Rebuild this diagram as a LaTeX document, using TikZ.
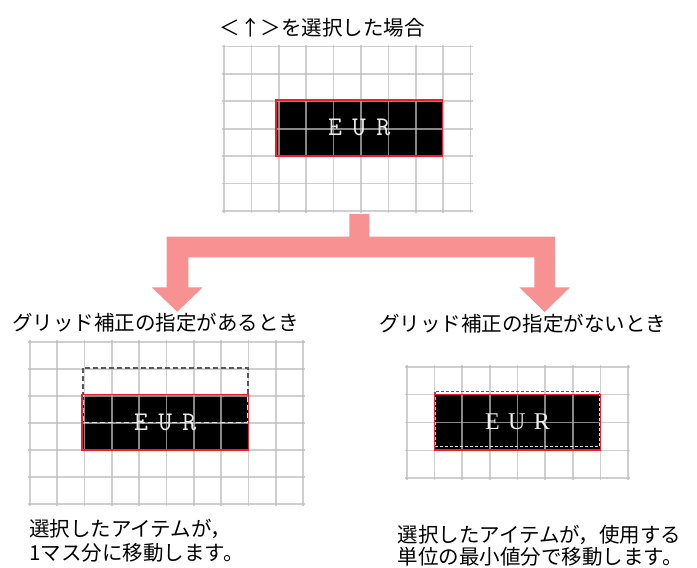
\documentclass[tikz,border=0pt]{standalone}
\usepackage{fontspec}
\newfontfamily\jpfont{Noto Sans CJK JP}
\newfontfamily\eurserif{Liberation Serif}
\usetikzlibrary{positioning}
\definecolor{arrowpink}{RGB}{248,145,145}
\definecolor{gridgray}{RGB}{188,188,188}
\definecolor{borderred}{RGB}{240,30,40}

\begin{document}
\begin{tikzpicture}[x=1pt, y=-1pt,
        gridline/.style={draw=gridgray, opacity=0.72, line width=1.7pt},
        itemfill/.style={fill=black, inner sep=0pt, outer sep=0pt, minimum width=166.3pt, minimum height=55.7pt},
        itemedge/.style={draw=borderred, line width=1.5pt},
        oldpos/.style={draw=black!65, line width=1.2pt},
        heading/.style={font=\jpfont\fontsize{20.5}{24}\selectfont, inner sep=0pt},
        note/.style={font=\jpfont\fontsize{20.5}{24}\selectfont, inner sep=0pt, align=left, anchor=west},
        eurmono/.style={text=black!8, font=\ttfamily\fontsize{27}{27}\selectfont\addfontfeatures{FakeBold=1.2}, inner sep=0pt},
        eurroman/.style={text=black!6, font=\eurserif\fontsize{24}{24}\selectfont, inner sep=0pt}
    ]
        \useasboundingbox (0,0) rectangle (697,568);

        % top panel
        \node[heading] (toptitle) at (322,27.5) {＜↑＞を選択した場合};
        \node[itemfill] (topbox) at (359.2,127.9) {};
        \foreach \i in {0,...,9}
            \draw[gridline] (224+27.4*\i,44.5) -- (224+27.4*\i,212.9);
        \foreach \j in {0,...,6}
            \draw[gridline] (222,46.5+27.4*\j) -- (472.6,46.5+27.4*\j);
        \draw[itemedge] (topbox.north west) rectangle (topbox.south east);
        \node[eurmono] (topeur) at (topbox.center) {E\hspace{10.2pt}U\hspace{10.2pt}R};

        % fork arrow
        \coordinate (stem) at (359.3,214);
        \coordinate (lefttip) at (177.3,311.7);
        \coordinate (righttip) at (544.7,312);
        \fill[arrowpink] ([xshift=-10pt]stem) -- ([xshift=10pt]stem) -- (369.3,236.7)
            -- (555,236.7) -- (555,287.3) -- (570,287.3) -- (righttip) -- (519.3,287.3)
            -- (534.3,287.3) -- (534.3,257.3) -- (188.3,257.3) -- (188.3,287.3)
            -- (202.7,287.3) -- (lefttip) -- (151.7,287.3) -- (166.7,287.3)
            -- (166.7,236.7) -- (349.3,236.7) -- cycle;

        % with grid snapping
        \node[heading, anchor=west] (lefttitle) at (12,322.5) {グリッド補正の指定があるとき};
        \node[itemfill] (leftbox) at (165.3,422.2) {};
        \foreach \i in {0,...,10}
            \draw[gridline] (30+27.3*\i,339.7) -- (30+27.3*\i,506.3);
        \foreach \j in {0,...,6}
            \draw[gridline] (28,341.7+27.1*\j) -- (305,341.7+27.1*\j);
        \draw[oldpos, dash pattern=on 5pt off 3pt] (83,368) rectangle (248,422.7);
        \begin{scope}
            \clip (leftbox.north west) rectangle (leftbox.south east);
            \draw[oldpos, draw=black!12, dash pattern=on 5pt off 3pt] (83,368) rectangle (248,422.7);
        \end{scope}
        \draw[itemedge] (leftbox.north west) rectangle (leftbox.south east);
        \node[eurmono] (lefteur) at (leftbox.center) {E\hspace{10.2pt}U\hspace{10.2pt}R};
        \node[note] (leftnote) at (29,540.4) {選択したアイテムが，\\1マス分に移動します。};

        % without grid snapping
        \node[heading, anchor=west] (righttitle) at (379,323.5) {グリッド補正の指定がないとき};
        \node[itemfill] (rightbox) at (517.5,422.2) {};
        \foreach \i in {0,...,8}
            \draw[gridline] (406.7+27.7*\i,364.7) -- (406.7+27.7*\i,480.3);
        \foreach \j in {0,...,4}
            \draw[gridline] (404.7,366.7+27.9*\j) -- (630.3,366.7+27.9*\j);
        \draw[oldpos, dash pattern=on 3pt off 2pt] (435,391.7) rectangle (599.3,446.7);
        \begin{scope}
            \clip (rightbox.north west) rectangle (rightbox.south east);
            \draw[oldpos, draw=black!12, dash pattern=on 3pt off 2pt] (435,391.7) rectangle (599.3,446.7);
        \end{scope}
        \draw[itemedge] (rightbox.north west) rectangle (rightbox.south east);
        \node[eurroman] (righteur) at (rightbox.center) {E\hspace{8.5pt}U\hspace{8.5pt}R};
        \node[note, font=\jpfont\fontsize{20.5}{21.8}\selectfont] (rightnote) at (397.5,545.4) {選択したアイテムが，使用する\\単位の最小値分で移動します。};
    \end{tikzpicture}
\end{document}
